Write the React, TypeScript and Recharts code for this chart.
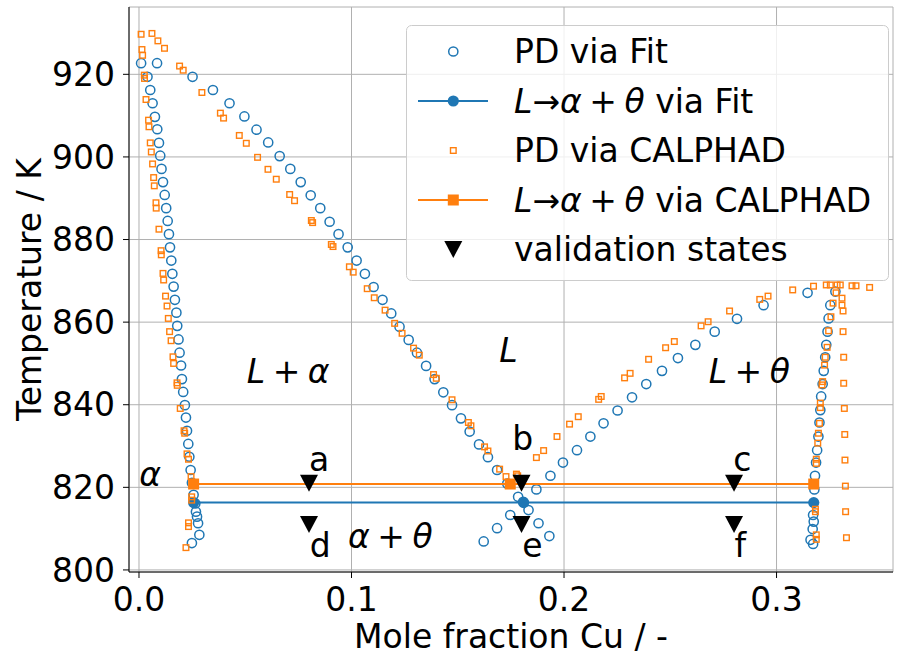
import React from 'react';
import { ComposedChart, Scatter, XAxis, YAxis, CartesianGrid, Legend } from 'recharts';

const BLUE = '#1f77b4';
const ORANGE = '#ff7f0e';
const FONT = '"DejaVu Sans", sans-serif';
const FS = 33;

// [mole fraction Cu, temperature K]
// PD via Fit
const fitAlphaSolvus = [
    [0.001, 922.7], [0.0085, 922.7], [0.004, 919.4], [0.0053, 916.2], [0.0064, 913.0], [0.0075, 909.7],
    [0.0086, 906.7], [0.0094, 903.4], [0.01, 900.3], [0.0106, 897.1], [0.0113, 893.9], [0.0121, 890.8],
    [0.0128, 887.6], [0.0135, 884.5], [0.0141, 881.3], [0.0146, 878.1], [0.0152, 874.9], [0.0157, 871.7],
    [0.0163, 868.6], [0.0169, 865.4], [0.0176, 862.3], [0.018, 859.1], [0.0186, 855.8], [0.0191, 852.6],
    [0.0198, 849.5], [0.0202, 846.2], [0.0208, 843.1], [0.0216, 839.9], [0.0221, 836.9], [0.0226, 833.7],
    [0.0232, 830.5], [0.0237, 827.4], [0.0243, 824.2], [0.0249, 821.1], [0.0257, 818.2], [0.0265, 816.1],
    [0.0268, 814.1], [0.0273, 812.9], [0.0278, 811.3], [0.0284, 808.5], [0.0249, 806.5],
];
const fitLiquidusAlpha = [
    [0.0252, 919.4], [0.0348, 916.2], [0.0426, 913.0], [0.0496, 909.8], [0.0553, 906.6], [0.0608, 903.5],
    [0.0662, 900.2], [0.0712, 897.1], [0.0761, 893.9], [0.0808, 890.7], [0.0853, 887.6], [0.0897, 884.3],
    [0.0939, 881.3], [0.0982, 878.1], [0.1024, 874.9], [0.1063, 871.7], [0.1104, 868.5], [0.1146, 865.4],
    [0.1187, 862.1], [0.1226, 858.9], [0.1269, 855.7], [0.1308, 852.6], [0.1351, 849.4], [0.1391, 846.2],
    [0.1432, 843.0], [0.1473, 839.9], [0.1515, 836.7], [0.1556, 833.5], [0.16, 830.4], [0.1642, 827.3],
    [0.1685, 824.2], [0.1733, 820.9], [0.1784, 817.7], [0.1833, 814.5], [0.188, 811.3], [0.1931, 808.2],
];
const fitLiquidusTheta = [
    [0.1622, 806.9], [0.1685, 810.1], [0.1747, 813.3], [0.1808, 816.5], [0.187, 819.5], [0.1936, 822.8],
    [0.1995, 826.0], [0.2061, 829.0], [0.2124, 832.3], [0.2186, 835.5], [0.2252, 838.6], [0.232, 841.8],
    [0.2387, 845.0], [0.2461, 848.2], [0.2536, 851.3], [0.2618, 854.5], [0.2709, 857.7], [0.2814, 860.8],
    [0.2939, 864.1], [0.3146, 867.1],
];
const fitThetaSolvus = [
    [0.3277, 867.4], [0.3253, 864.1], [0.3245, 860.9], [0.324, 857.7], [0.3234, 854.5], [0.3229, 851.5],
    [0.3222, 848.2], [0.3217, 845.0], [0.321, 842.0], [0.3206, 838.7], [0.3202, 835.7], [0.3197, 832.3],
    [0.3191, 829.0], [0.3186, 826.0], [0.3181, 822.8], [0.3178, 819.5], [0.3172, 813.3], [0.3175, 811.7],
    [0.317, 809.9], [0.316, 807.3], [0.3172, 806.3],
];

// PD via CALPHAD
const calAlphaSolvus = [
    [0.001, 929.7], [0.0061, 929.9], [0.0089, 928.1], [0.012, 926.3], [0.0014, 926.0], [0.0017, 924.6],
    [0.0025, 919.8], [0.0026, 919.0], [0.0033, 913.9], [0.0045, 908.9], [0.0047, 907.3], [0.0053, 903.4],
    [0.0058, 901.2], [0.0064, 898.3], [0.0069, 895.0], [0.0072, 893.0], [0.008, 888.9], [0.0081, 887.6],
    [0.0094, 882.5], [0.0104, 877.3], [0.0105, 876.3], [0.0113, 871.8], [0.0116, 870.2], [0.0125, 866.3],
    [0.0132, 863.9], [0.0138, 860.9], [0.0144, 857.7], [0.0151, 855.5], [0.016, 851.6], [0.0163, 850.0],
    [0.0179, 845.3], [0.018, 844.7], [0.0194, 839.1], [0.0212, 833.7], [0.0215, 833.1], [0.0226, 828.1],
    [0.0233, 826.8], [0.0245, 822.6], [0.0248, 817.7], [0.0248, 816.9], [0.0233, 811.4], [0.0233, 810.5],
    [0.0221, 805.4],
];
const calLiquidusAlpha = [
    [0.0191, 922.0], [0.0208, 921.0], [0.0296, 915.6], [0.0383, 910.6], [0.0398, 909.4], [0.0472, 905.2],
    [0.0505, 903.3], [0.0558, 899.9], [0.0607, 897.0], [0.0646, 894.6], [0.0709, 890.9], [0.0732, 889.4],
    [0.0811, 884.6], [0.0817, 884.1], [0.0905, 878.8], [0.0913, 878.3], [0.099, 873.4], [0.1008, 872.1],
    [0.1074, 868.1], [0.1107, 865.9], [0.1158, 862.9], [0.1203, 859.7], [0.1238, 857.3], [0.1292, 853.7],
    [0.1319, 852.0], [0.1386, 847.3], [0.1399, 846.4], [0.1473, 841.2], [0.155, 835.7], [0.1562, 834.9],
    [0.1626, 829.8], [0.1642, 828.8], [0.1697, 824.4], [0.1727, 822.6],
];
const calLiquidusTheta = [
    [0.1776, 823.2], [0.1782, 822.8], [0.187, 827.2], [0.1904, 828.9], [0.1967, 832.3], [0.2026, 835.3],
    [0.2067, 837.1], [0.2163, 841.3], [0.2175, 842.0], [0.2285, 846.5], [0.2311, 847.6], [0.2398, 851.0],
    [0.2478, 853.8], [0.2519, 855.3], [0.2645, 859.1], [0.2678, 860.1], [0.2779, 862.7], [0.2921, 865.5],
    [0.296, 866.3], [0.3076, 867.8], [0.3174, 868.7], [0.3234, 869.0], [0.3253, 869.0], [0.3285, 869.0],
    [0.33, 869.0], [0.3355, 868.8], [0.3374, 868.8], [0.3438, 868.4],
];
const calThetaSolvus = [
    [0.328, 867.1], [0.3266, 864.6], [0.3256, 861.3], [0.3245, 857.9], [0.3238, 853.9], [0.3229, 851.5],
    [0.3226, 849.6], [0.3217, 845.6], [0.3214, 844.8], [0.3206, 840.4], [0.3206, 839.3], [0.3202, 835.5],
    [0.3197, 833.1], [0.3194, 830.7], [0.3187, 826.8], [0.3187, 825.8], [0.3183, 814.7], [0.3183, 814.1],
    [0.3187, 808.5], [0.3187, 807.4],
];
const calThetaOuter = [
    [0.3308, 865.8], [0.3308, 864.1], [0.3313, 862.7], [0.3313, 857.7], [0.3316, 851.5], [0.3316, 845.2],
    [0.3319, 839.1], [0.3321, 832.8], [0.3322, 826.6], [0.3324, 820.3], [0.3325, 814.1], [0.3329, 807.8],
];

// L -> alpha + theta (eutectic)
const fitEutectic = [[0.0257, 816.3], [0.181, 816.3], [0.3175, 816.3]];
const calEutectic = [[0.0257, 820.8], [0.1747, 820.8], [0.3175, 820.8]];

// validation states
const validationX = [0.08, 0.18, 0.28];
const validationT = [821, 811];

const regionLabels = [
    { x: 0.0053, y: 820.3, text: 'α' },
    { x: 0.0702, y: 845.2, text: 'L + α' },
    { x: 0.1738, y: 850.4, text: 'L' },
    { x: 0.2872, y: 845.2, text: 'L + θ' },
    { x: 0.1183, y: 805.3, text: 'α + θ' },
];
const stateLabels = [
    { x: 0.0848, y: 824.0, text: 'a' },
    { x: 0.1806, y: 829.0, text: 'b' },
    { x: 0.2839, y: 824.0, text: 'c' },
    { x: 0.0853, y: 803.1, text: 'd' },
    { x: 0.1851, y: 803.1, text: 'e' },
    { x: 0.283, y: 803.1, text: 'f' },
];

const xTicks = [0, 0.1, 0.2, 0.3];
const yTicks = [800, 820, 840, 860, 880, 900, 920];

const toPts = (arr: number[][]) => arr.map(([x, y]) => ({ x, y }));

const fitPD = toPts([...fitAlphaSolvus, ...fitLiquidusAlpha, ...fitLiquidusTheta, ...fitThetaSolvus]);
const calPD = toPts([...calAlphaSolvus, ...calLiquidusAlpha, ...calLiquidusTheta, ...calThetaSolvus, ...calThetaOuter]);
const validation = validationT.flatMap((t) => validationX.map((x) => ({ x, y: t })));

// mathtext-like: italic L, alpha, theta; spaces around '+' are thinner
const mathSpans = (s: string) => {
    const out: React.ReactNode[] = [];
    let gap = 0;
    let i = 0;
    for (const ch of s) {
        if (ch === ' ') {
            gap += 7.5;
            continue;
        }
        out.push(
            <tspan key={i++} dx={gap || undefined} fontStyle={'Lαθ'.includes(ch) ? 'italic' : 'normal'}>{ch}</tspan>
        );
        gap = 0;
    }
    return out;
};

const OpenCircle = (p: any) => (
    <circle cx={p.cx} cy={p.cy} r={4.6} fill="none" stroke={BLUE} strokeWidth={1.5} />
);
const OpenSquare = (p: any) => (
    <rect x={p.cx - 2.8} y={p.cy - 2.8} width={5.6} height={5.6} fill="none" stroke={ORANGE} strokeWidth={1.4} />
);
const FilledCircle = (p: any) => <circle cx={p.cx} cy={p.cy} r={5.6} fill={BLUE} />;
const FilledSquare = (p: any) => (
    <rect x={p.cx - 5.5} y={p.cy - 5.5} width={11} height={11} fill={ORANGE} />
);
const TriDown = (p: any) => (
    <polygon points={`${p.cx - 9},${p.cy - 8.5} ${p.cx + 9},${p.cy - 8.5} ${p.cx},${p.cy + 8.5}`} fill="#000" />
);
const MathText = (p: any) => (
    <text x={p.cx} y={p.cy} textAnchor="middle" fontSize={FS} fontFamily={FONT} fill="#000">
        {mathSpans(p.payload.text)}
    </text>
);
const PlainText = (p: any) => (
    <text x={p.cx} y={p.cy} textAnchor="middle" fontSize={FS} fontFamily={FONT} fill="#000">
        {p.payload.text}
    </text>
);

const legendRows = [
    { math: '', rest: 'PD via Fit' },
    { math: 'L→α + θ', rest: ' via Fit' },
    { math: '', rest: 'PD via CALPHAD' },
    { math: 'L→α + θ', rest: ' via CALPHAD' },
    { math: '', rest: 'validation states' },
];

const LegendBox = () => {
    const mx = 47.3;
    const rowY = (i: number) => 26.5 + i * 49.5;
    return (
        <svg width={484} height={257} style={{ display: 'block' }}>
            <rect x={0.5} y={0.5} width={482} height={255} rx={5} fill="rgba(255,255,255,0.8)" stroke="#cccccc" strokeWidth={1} />
            <circle cx={mx} cy={rowY(0)} r={4.6} fill="none" stroke={BLUE} strokeWidth={1.5} />
            <line x1={12} x2={82} y1={rowY(1)} y2={rowY(1)} stroke={BLUE} strokeWidth={2} />
            <circle cx={mx} cy={rowY(1)} r={5.6} fill={BLUE} />
            <rect x={mx - 2.8} y={rowY(2) - 2.8} width={5.6} height={5.6} fill="none" stroke={ORANGE} strokeWidth={1.4} />
            <line x1={12} x2={82} y1={rowY(3)} y2={rowY(3)} stroke={ORANGE} strokeWidth={2} />
            <rect x={mx - 5.5} y={rowY(3) - 5.5} width={11} height={11} fill={ORANGE} />
            <polygon points={`${mx - 9},${rowY(4) - 8.5} ${mx + 9},${rowY(4) - 8.5} ${mx},${rowY(4) + 8.5}`} fill="#000" />
            {legendRows.map((r, i) => (
                <text key={i} x={108} y={rowY(i) + 11.5} fontSize={FS} fontFamily={FONT} fill="#000" style={{ whiteSpace: 'pre' }}>
                    {mathSpans(r.math)}
                    <tspan>{r.rest}</tspan>
                </text>
            ))}
        </svg>
    );
};

const xDomain = [-0.0047, 0.3548];
const yDomain = [799.5, 936.3];
const tickStyle = { fill: '#000', fontSize: FS, fontFamily: FONT };

export default function App() {
    return (
        <div style={{ position: 'absolute', left: 0, top: 0, width: 900, height: 660, background: '#fff' }}>
            <ComposedChart width={900} height={660} margin={{ top: 7, right: 7, left: 0, bottom: 0 }}>
                <CartesianGrid stroke="#b0b0b0" strokeWidth={1} />
                <XAxis
                    type="number"
                    dataKey="x"
                    domain={xDomain}
                    ticks={xTicks}
                    tickFormatter={(v: number) => v.toFixed(1)}
                    height={88}
                    tick={tickStyle}
                    tickSize={6}
                    tickMargin={10}
                    stroke="#000"
                    allowDataOverflow
                    label={{ value: 'Mole fraction Cu / -', position: 'insideBottom', offset: 12, fontSize: FS, fill: '#000', fontFamily: FONT }}
                />
                <XAxis xAxisId="top" orientation="top" type="number" domain={xDomain} height={0} tick={false} tickLine={false} stroke="#000" />
                <YAxis
                    type="number"
                    dataKey="y"
                    domain={yDomain}
                    ticks={yTicks}
                    width={129}
                    tick={tickStyle}
                    tickSize={6}
                    tickMargin={8}
                    stroke="#000"
                    allowDataOverflow
                    label={{
                        content: (props: any) => {
                            const vb = props.viewBox || { y: 7, height: 565 };
                            return (
                                <text
                                    transform={`translate(41, ${vb.y + vb.height / 2}) rotate(-90)`}
                                    textAnchor="middle"
                                    fontSize={FS}
                                    fontFamily={FONT}
                                    fill="#000"
                                >
                                    Temperature / K
                                </text>
                            );
                        },
                    }}
                />
                <YAxis yAxisId="right" orientation="right" type="number" domain={yDomain} width={0} tick={false} tickLine={false} stroke="#000" />

                <Scatter data={fitPD} shape={OpenCircle} isAnimationActive={false} />
                <Scatter data={toPts(fitEutectic)} fill={BLUE} line={{ stroke: BLUE, strokeWidth: 2 }} lineType="joint" shape={FilledCircle} isAnimationActive={false} />
                <Scatter data={calPD} shape={OpenSquare} isAnimationActive={false} />
                <Scatter data={toPts(calEutectic)} fill={ORANGE} line={{ stroke: ORANGE, strokeWidth: 2 }} lineType="joint" shape={FilledSquare} isAnimationActive={false} />
                <Scatter data={validation} shape={TriDown} isAnimationActive={false} />
                <Scatter data={regionLabels} shape={MathText} isAnimationActive={false} />
                <Scatter data={stateLabels} shape={PlainText} isAnimationActive={false} />

                <Legend
                    layout="horizontal"
                    verticalAlign="middle"
                    align="center"
                    content={() => <LegendBox />}
                    wrapperStyle={{ left: 406, top: 25, width: 484, height: 257 }}
                />
            </ComposedChart>
        </div>
    );
}
